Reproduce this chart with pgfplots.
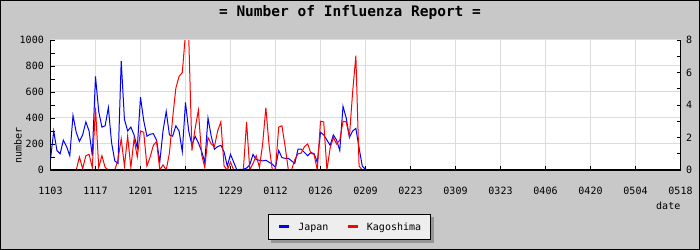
\documentclass[border=0pt]{standalone}
\usepackage{pgfplots}
\usepackage{pgfplotstable}
\pgfplotsset{compat=1.18}
\usepackage{fontspec}
\setmainfont{DejaVu Sans Mono}
\definecolor{bggray}{RGB}{200,200,200}
\definecolor{gridgray}{RGB}{220,220,220}
\definecolor{legfill}{RGB}{238,238,238}
\definecolor{shadowgray}{RGB}{150,150,150}
\pgfdeclarelayer{bglayer}
\pgfdeclarelayer{shadowlayer}
\pgfsetlayers{bglayer,shadowlayer,main}

% day index (0 = 11/03), Japan (left axis), Kagoshima (right axis)
\pgfplotstableread{
d jp kg
0 80 0
1 300 0
2 150 0
3 125 0
4 230 0
5 180 0
6 110 0
7 420 0
8 290 0
9 220 0.8
10 270 0.08
11 370 0.88
12 300 0.96
13 110 0.16
14 720 3.84
15 450 0.16
16 330 0.88
17 340 0.16
18 480 0
19 210 0
20 70 0
21 50 0.64
22 840 1.92
23 390 0.24
24 300 2.08
25 330 0.16
26 270 1.92
27 170 0.8
28 560 2.4
29 380 2.32
30 260 0.24
31 275 0.8
32 280 1.52
33 230 1.76
34 60 0
35 300 0.32
36 450 0
37 270 1.04
38 260 3.2
39 340 5.04
40 300 5.76
41 140 6.0
42 520 8.4
43 300 8.24
44 190 1.2
45 260 2.56
46 210 3.68
47 145 0.96
48 60 0.16
49 400 2.0
50 260 1.6
51 160 1.44
52 180 2.4
53 190 2.96
54 140 0.24
55 30 0
56 120 0.48
57 60 0
58 0 0
59 5 0
60 5 0
61 15 2.96
62 40 0
63 120 0.4
64 80 0.88
65 75 0.16
66 70 1.6
67 75 3.84
68 60 1.52
69 45 0
70 20 0.08
71 150 2.64
72 95 2.72
73 90 1.44
74 90 0
75 70 0
76 50 0.64
77 160 1.0
78 160 1.04
79 135 1.44
80 110 1.6
81 135 1.04
82 125 0.96
83 60 0
84 290 3.0
85 270 2.96
86 230 0
87 190 1.36
88 270 2.0
89 230 1.6
90 150 1.84
91 490 3.0
92 400 2.96
93 250 2.08
94 300 4.8
95 320 7.04
96 170 0.24
97 30 0
98 5 0
}\flu

\begin{document}
\begin{tikzpicture}
\path[use as bounding box] (0bp,0bp) rectangle (700bp,250bp);
\begin{pgfonlayer}{bglayer}
\fill[bggray] (0bp,0bp) rectangle (700bp,250bp);
\end{pgfonlayer}
\draw[black, line width=1bp] (0.5bp,0.5bp) rectangle (699.5bp,249.5bp);
\node[font=\fontsize{14.5bp}{16bp}\selectfont\bfseries] at (350bp,237bp) {= Number of Influenza Report =};

\pgfplotsset{
  myaxis/.style={
    at={(50.5bp,80bp)}, anchor=south west,
    width=630bp, height=130bp, scale only axis,
    xmin=0, xmax=196,
    tick style={black, line width=0.8bp},
    major tick length=4bp, minor tick length=4bp,
    tick label style={font=\fontsize{10bp}{12bp}\selectfont, inner sep=0pt},
    /pgf/number format/assume math mode=true,
    /pgf/number format/1000 sep={},
    axis line style={black, line width=1bp},
  }
}

\begin{axis}[myaxis,
  axis background/.style={fill=white},
  ymin=0, ymax=1000,
  axis x line*=bottom, axis y line*=left,
  x axis line style={line width=2bp},
  xtick={0,14,...,196},
  xticklabels={1103,1117,1201,1215,1229,0112,0126,0209,0223,0309,0323,0406,0420,0504,0518},
  xticklabel style={anchor=base, yshift=-25bp},
  ytick={0,200,...,1000},
  minor y tick num=1,
  yticklabel style={anchor=east, xshift=-6.5bp},
  grid=major,
  grid style={gridgray, line width=1bp},
  xlabel={date},
  xlabel style={at={(axis description cs:1,-0.3)}, anchor=base east, inner sep=0pt, font=\fontsize{10bp}{12bp}\selectfont},
  ylabel={number},
  ylabel style={at={(axis description cs:-0.0516,0.19)}, anchor=center, inner sep=0pt, font=\fontsize{10bp}{12bp}\selectfont},
]
\addplot[blue, line width=1bp, no markers, sharp plot] table[x=d, y=jp] {\flu};
\end{axis}

\begin{axis}[myaxis,
  ymin=0, ymax=8,
  axis x line=none, axis y line*=right,
  ytick={0,2,...,8},
  minor y tick num=1,
  yticklabel style={anchor=west, xshift=5.5bp},
  legend columns=2,
  legend style={
    name=leg,
    at={(axis description cs:0.4746,-0.4385)}, anchor=center,
    draw=black, line width=1bp, fill=legfill,
    font=\fontsize{10bp}{12bp}\selectfont,
    inner xsep=9bp, inner ysep=8bp,
    nodes={inner sep=0pt, anchor=base west},
    /tikz/every odd column/.append style={column sep=8bp},
    /tikz/every even column/.append style={column sep=18bp},
  },
  legend image code/.code={\path[draw=none, fill=none] (0bp,0bp) rectangle (10bp,7bp); \draw[#1, line width=2.5bp] (0bp,3.8bp) -- (10bp,3.8bp);},
]
\addlegendimage{blue}
\addlegendentry{Japan}
\addplot[red, line width=1bp, no markers, sharp plot] table[x=d, y=kg] {\flu};
\addlegendentry{Kagoshima}
\end{axis}
% bottom axis line redrawn over the zero-level data
\draw[black, line width=2bp] (50bp,80bp) -- (681bp,80bp);
% legend shadow
\begin{pgfonlayer}{shadowlayer}
\fill[shadowgray] ([xshift=3bp,yshift=-3bp]leg.south west) rectangle ([xshift=3bp,yshift=-3bp]leg.north east);
\end{pgfonlayer}
\end{tikzpicture}
\end{document}
